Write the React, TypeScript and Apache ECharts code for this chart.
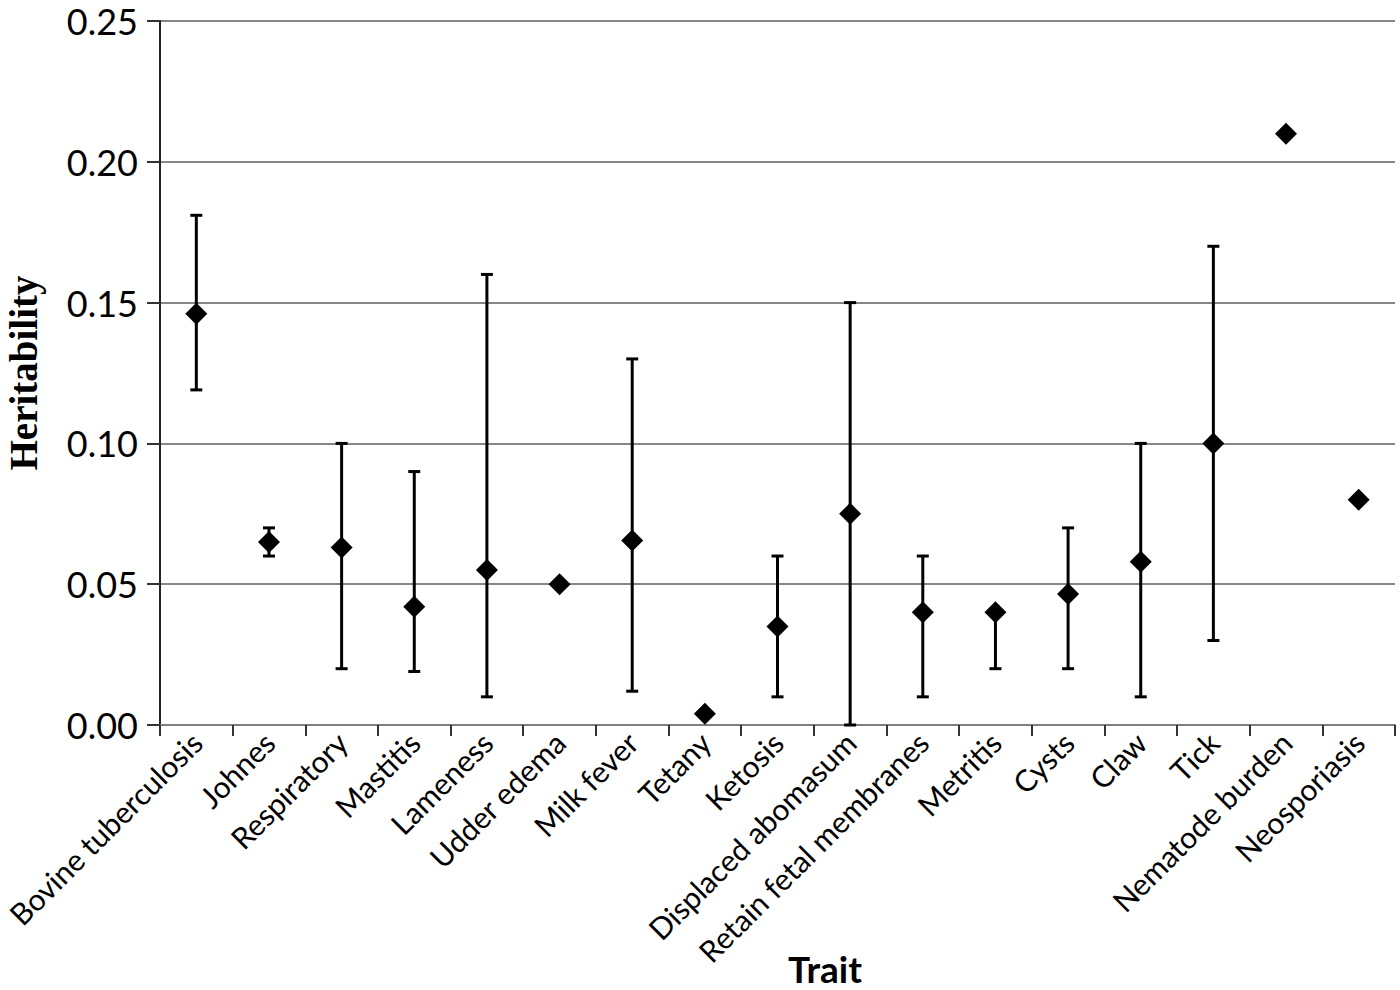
import React, { useEffect, useRef } from "react";
import * as echarts from "echarts";

const traits = [
  "Bovine tuberculosis", "Johnes", "Respiratory", "Mastitis", "Lameness",
  "Udder edema", "Milk fever", "Tetany", "Ketosis", "Displaced abomasum",
  "Retain fetal membranes", "Metritis", "Cysts", "Claw", "Tick",
  "Nematode burden", "Neosporiasis",
];
const heritability = [0.146, 0.065, 0.063, 0.042, 0.055, 0.05, 0.0655, 0.004, 0.035, 0.075, 0.04, 0.04, 0.0465, 0.058, 0.1, 0.21, 0.08];
const lower: (number | null)[] = [0.119, 0.06, 0.02, 0.019, 0.01, null, 0.012, null, 0.01, 0.0, 0.01, 0.02, 0.02, 0.01, 0.03, null, null];
const upper: (number | null)[] = [0.181, 0.07, 0.1, 0.09, 0.16, null, 0.13, null, 0.06, 0.15, 0.06, 0.04, 0.07, 0.1, 0.17, null, null];
const yTicks = [0, 0.05, 0.1, 0.15, 0.2, 0.25];

export default function App() {
  const ref = useRef<HTMLDivElement>(null);
  useEffect(() => {
    document.body.style.margin = "0";
    if (!ref.current) return;
    const chart = echarts.init(ref.current, null, { renderer: "svg" });
    const errData = traits
      .map((_, i) => (lower[i] == null || upper[i] == null ? null : [i, lower[i], upper[i]]))
      .filter((d) => d != null);
    chart.setOption({
      animation: false,
      backgroundColor: "#ffffff",
      grid: { left: 160, right: 5, top: 21, bottom: 265, containLabel: false, outerBoundsMode: "none" },
      xAxis: {
        type: "category",
        data: traits,
        boundaryGap: true,
        axisLine: { lineStyle: { color: "#7f7f7f", width: 2 } },
        axisTick: { show: true, length: 11, alignWithLabel: false, lineStyle: { color: "#333", width: 2 } },
        axisLabel: {
          interval: 0,
          rotate: 45,
          margin: 12,
          fontFamily: "Lato",
          fontSize: 30,
          color: "#000",
        },
      },
      yAxis: {
        type: "value",
        min: 0,
        max: 0.25,
        interval: 0.05,
        name: "Heritability",
        nameLocation: "middle",
        nameRotate: 90,
        nameGap: 117,
        nameTextStyle: { fontFamily: "Liberation Serif", fontWeight: "bold", fontSize: 39, color: "#000" },
        axisLine: { show: true, lineStyle: { color: "#222", width: 2 } },
        axisTick: { show: true, length: 13, lineStyle: { color: "#333", width: 2 } },
        axisLabel: {
          margin: 22,
          fontFamily: "Lato",
          fontSize: 36,
          lineHeight: 36,
          color: "#000",
          formatter: (v: number) => (yTicks.includes(Math.round(v * 100) / 100) ? v.toFixed(2) : ""),
        },
        splitLine: { show: true, lineStyle: { color: "#868686", width: 2 } },
      },
      graphic: [
        {
          type: "text",
          left: 788,
          top: 950,
          style: { text: "Trait", fontFamily: "Lato", fontWeight: "bold", fontSize: 37, fill: "#000" },
        },
      ],
      series: [
        {
          type: "custom",
          data: errData,
          z: 2,
          renderItem: (params: any, api: any) => {
            const x = api.value(0);
            const lo = api.coord([x, api.value(1)]);
            const hi = api.coord([x, api.value(2)]);
            const cap = 6;
            const style = { stroke: "#000", lineWidth: 3 };
            return {
              type: "group",
              children: [
                { type: "line", shape: { x1: lo[0], y1: lo[1], x2: hi[0], y2: hi[1] }, style },
                { type: "line", shape: { x1: lo[0] - cap, y1: lo[1], x2: lo[0] + cap, y2: lo[1] }, style },
                { type: "line", shape: { x1: hi[0] - cap, y1: hi[1], x2: hi[0] + cap, y2: hi[1] }, style },
              ],
            };
          },
        },
        {
          type: "scatter",
          data: heritability,
          symbol: "diamond",
          symbolSize: [22, 22],
          itemStyle: { color: "#000", opacity: 1 },
          emphasis: { disabled: true },
          z: 3,
        },
      ],
    });
    return () => chart.dispose();
  }, []);
  return <div ref={ref} style={{ width: 1400, height: 990 }} />;
}
